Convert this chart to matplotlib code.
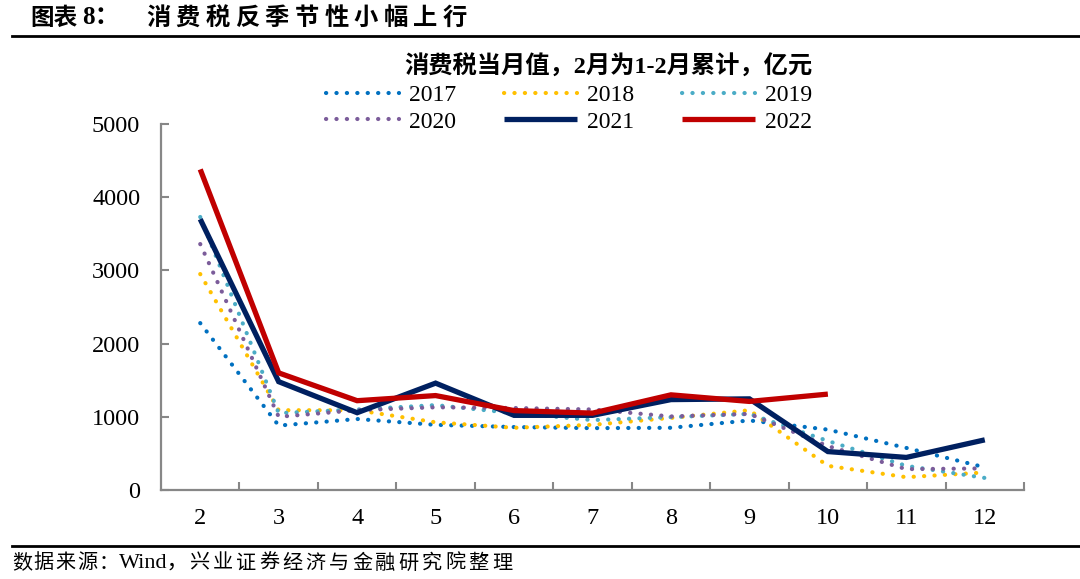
import matplotlib
matplotlib.use("Agg")
import matplotlib.pyplot as plt
from matplotlib.lines import Line2D
from matplotlib.ticker import FixedLocator

W, H = 1080, 579

months = ["2", "3", "4", "5", "6", "7", "8", "9", "10", "11", "12"]
y2017 = [2280, 880, 970, 890, 860, 845, 850, 950, 825, 575, 310]
y2018 = [2950, 1090, 1090, 925, 850, 890, 985, 1090, 330, 175, 240]
y2019 = [3730, 1050, 1100, 1160, 1050, 955, 995, 1040, 670, 330, 165]
y2020 = [3360, 1000, 1090, 1130, 1120, 1100, 1005, 1040, 600, 285, 295]
y2021 = [3700, 1480, 1056, 1460, 1020, 1020, 1235, 1245, 525, 445, 685]
y2022 = [4380, 1600, 1220, 1290, 1085, 1050, 1300, 1210, 1310]

series = [
    ("2017", y2017, "#0070C0", "dot"),
    ("2018", y2018, "#FFC000", "dot"),
    ("2019", y2019, "#4BACC6", "dot"),
    ("2020", y2020, "#7B5C9A", "dot"),
    ("2021", y2021, "#002060", "solid"),
    ("2022", y2022, "#C00000", "solid"),
]

legend_title = "消费税当月值，2月为1-2月累计，亿元"
fig_title = "消费税反季节性小幅上行"
source_tail = "兴业证券经济与金融研究院整理"

mixed = ["Liberation Serif", "Noto Sans CJK SC"]
cjk = ["Noto Sans CJK SC", "DejaVu Sans"]
plt.rcParams["font.family"] = mixed

fig = plt.figure(figsize=(W / 100, H / 100), dpi=100)
ax = fig.add_axes([161 / W, 1 - 490 / H, (1024 - 161) / W, (490 - 124) / H])

x = list(range(len(months)))
handles = {}
for name, vals, color, style in series:
    if style == "dot":
        ln, = ax.plot(x[:len(vals)], vals, color=color, lw=3.0, linestyle=(0, (0.05, 2.45)),
                      dash_capstyle="round", label=name)
    else:
        ln, = ax.plot(x[:len(vals)], vals, color=color, lw=3.8, solid_capstyle="butt",
                      solid_joinstyle="miter", label=name)
    handles[name] = ln

ax.set_xlim(-0.5, len(months) - 0.5)
ax.set_ylim(0, 5000)
ax.set_yticks(range(0, 5001, 1000))
ax.set_xticks(x)
ax.set_xticklabels(months)
ax.xaxis.set_minor_locator(FixedLocator([i + 0.5 for i in range(len(months))]))
for s in ["top", "right"]:
    ax.spines[s].set_visible(False)
for s in ["left", "bottom"]:
    ax.spines[s].set_color("#878787")
    ax.spines[s].set_linewidth(1.6)
ax.tick_params(axis="y", direction="in", length=6, width=1.5, color="#878787",
               labelsize=17.5, pad=15)
ax.tick_params(axis="x", which="major", length=0, labelsize=17.5, pad=13)
ax.tick_params(axis="x", which="minor", direction="in", length=6, width=1.5, color="#878787")

# legend fills row by row in the reference
order = ["2017", "2020", "2018", "2021", "2019", "2022"]
leg = ax.legend([handles[k] for k in order], order, ncol=3, loc="upper right",
                bbox_to_anchor=(812 / W, 1 - 55 / H),
                bbox_transform=fig.transFigure, frameon=False, fontsize=17,
                handlelength=3.1, handletextpad=0.4, columnspacing=2.05,
                labelspacing=0.22, borderpad=0, borderaxespad=0,
                title=legend_title, alignment="right",
                title_fontproperties={"family": mixed, "weight": "bold", "size": 17.5})

# title with rule
fig.text(30 / W, 1 - 18 / H, "图表", fontsize=17, family=cjk, weight="bold", va="center")
fig.text(82 / W, 1 - 18 / H, "8：", fontsize=18, family=mixed, weight="bold", va="center")
for i, ch in enumerate(fig_title):
    fig.text((146 + i * 29.7) / W, 1 - 18 / H, ch, fontsize=17.5, family=cjk,
             weight="bold", va="center")
fig.add_artist(Line2D([12 / W, 1], [1 - 36 / H, 1 - 36 / H], color="black", lw=2))

# source with rule
fig.add_artist(Line2D([12 / W, 1], [1 - 546 / H, 1 - 546 / H], color="black", lw=2))
for i, ch in enumerate("数据来源："):
    fig.text((12 + i * 21.7) / W, 1 - 563 / H, ch, fontsize=14.5, family=cjk, va="center")
fig.text(119 / W, 1 - 563 / H, "Wind，", fontsize=16, family=mixed, va="center")
for i, ch in enumerate(source_tail):
    fig.text((189 + i * 23.3) / W, 1 - 563 / H, ch, fontsize=14.5, family=cjk, va="center")

fig.savefig("out.png", dpi=100)
